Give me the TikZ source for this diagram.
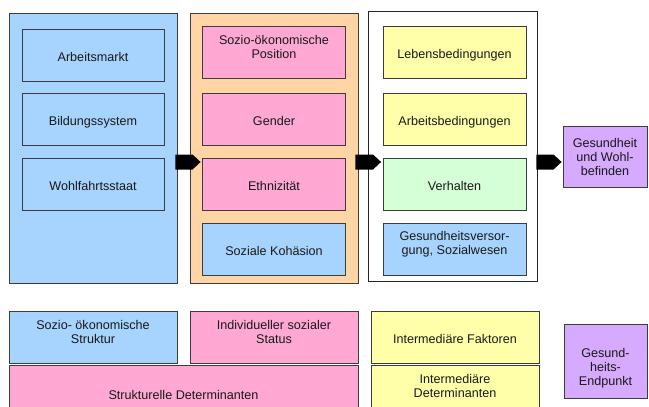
\documentclass[tikz,border=0pt]{standalone}
\usepackage{fontspec}
\setmainfont{Liberation Sans}
\usetikzlibrary{calc}

\definecolor{cblue}{RGB}{166,212,255}
\definecolor{corange}{RGB}{255,213,166}
\definecolor{cpink}{RGB}{255,168,212}
\definecolor{cyellow}{RGB}{255,255,170}
\definecolor{cgreen}{RGB}{213,255,213}
\definecolor{cpurple}{RGB}{213,170,255}
\definecolor{framegray}{RGB}{60,60,60}

\tikzset{
  panel/.style={draw=framegray, line width=0.9pt, rectangle, inner sep=0pt},
  cell/.style={draw=framegray, line width=0.9pt, rectangle, inner sep=0pt},
  celltext/.style={inner sep=0pt, align=center, text depth=0pt,
    font=\fontsize{12.6}{14.4}\selectfont, text=black!90},
  arrowblk/.style={fill=black},
}

% box with its caption: name, cx, cy, width, height, fill, caption, caption shift
\newcommand\cellbox[8]{%
  \node[cell, fill=#6, minimum width=#4pt, minimum height=#5pt] (#1) at (#2,#3) {};
  \node[celltext] (#1-t) at ([yshift=#8pt]#1.center) {#7};}

% block arrow: from, to, tail offset, tip offset
\newcommand\blockarrow[4]{%
  \path (#1.east |- arrowline) ++(#3,0) coordinate (ta);
  \path (#2.west |- arrowline) ++(#4,0) coordinate (tb);
  \fill[arrowblk] ([yshift=7.5pt]ta) -- ([xshift=-8pt,yshift=7.5pt]tb) -- (tb)
    -- ([xshift=-8pt,yshift=-7.5pt]tb) -- ([yshift=-7.5pt]ta) -- cycle;}

\begin{document}
\begin{tikzpicture}[x=1pt,y=-1pt]
\useasboundingbox (0,0) rectangle (649,407);
\clip (0,0) rectangle (649,407);
\fill[white] (0,0) rectangle (649,407);

% three columns
\node[panel, fill=cblue, minimum width=168pt, minimum height=270pt] (col1) at (93,148) {};
\node[panel, fill=corange, minimum width=168pt, minimum height=270pt] (col2) at (274,148) {};
\node[panel, draw=black!85, fill=white, minimum width=169pt, minimum height=270pt] (col3) at (452.5,146) {};

% structural level
\cellbox{arb}{93}{55}{142}{52}{cblue}{Arbeitsmarkt}{-1.5}
\cellbox{bild}{93}{119}{142}{52}{cblue}{Bildungssystem}{-1.5}
\cellbox{wohl}{93}{184}{142}{52}{cblue}{Wohlfahrtsstaat}{-1.5}

% individual social status
\cellbox{sozpos}{274}{52}{142.5}{52}{cpink}{Sozio-ökonomische\\Position}{5}
\cellbox{gender}{274}{119}{142.5}{52}{cpink}{Gender}{-1.5}
\cellbox{ethn}{274}{184}{142.5}{52}{cpink}{Ethnizität}{-1.5}
\cellbox{kohae}{274}{249}{142.5}{52}{cblue}{Soziale Kohäsion}{-1.5}

% intermediary factors
\cellbox{leben}{454.5}{52}{143}{52}{cyellow}{Lebensbedingungen}{-1.5}
\cellbox{arbbed}{454.5}{119}{143}{52}{cyellow}{Arbeitsbedingungen}{-1.5}
\cellbox{verh}{454.5}{184}{143}{52}{cgreen}{Verhalten}{-1.5}
\cellbox{gesvers}{454.5}{249}{143}{52}{cblue}{Gesundheitsversor-\\gung, Sozialwesen}{6}

% outcome
\cellbox{gesund}{605}{157}{84}{60.6}{cpurple}{Gesundheit\\und Wohl-\\befinden}{0}

% legend
\cellbox{sozstr}{93}{337.5}{168}{51.5}{cblue}{Sozio- ökonomische\\Struktur}{5.5}
\cellbox{indiv}{274}{337.5}{168}{51.5}{cpink}{Individueller sozialer\\Status}{5.5}
\cellbox{strukt}{183.5}{393}{349}{56}{cpink}{Strukturelle Determinanten}{-1.5}
\cellbox{intfak}{455}{337.5}{168}{51.5}{cyellow}{Intermediäre Faktoren}{-1.5}
\cellbox{intdet}{455}{393}{168}{56}{cyellow}{Intermediäre\\Determinanten}{7}
\cellbox{endp}{605.5}{361}{83}{74}{cpurple}{Gesund-\\heits-\\Endpunkt}{-6}

% arrows between the levels
\coordinate (arrowline) at (0,162);
\blockarrow{col1}{col2}{-2}{11}
\blockarrow{col2}{col3}{-3}{13.5}
\blockarrow{col3}{gesund}{-1}{-1}
\end{tikzpicture}
\end{document}
